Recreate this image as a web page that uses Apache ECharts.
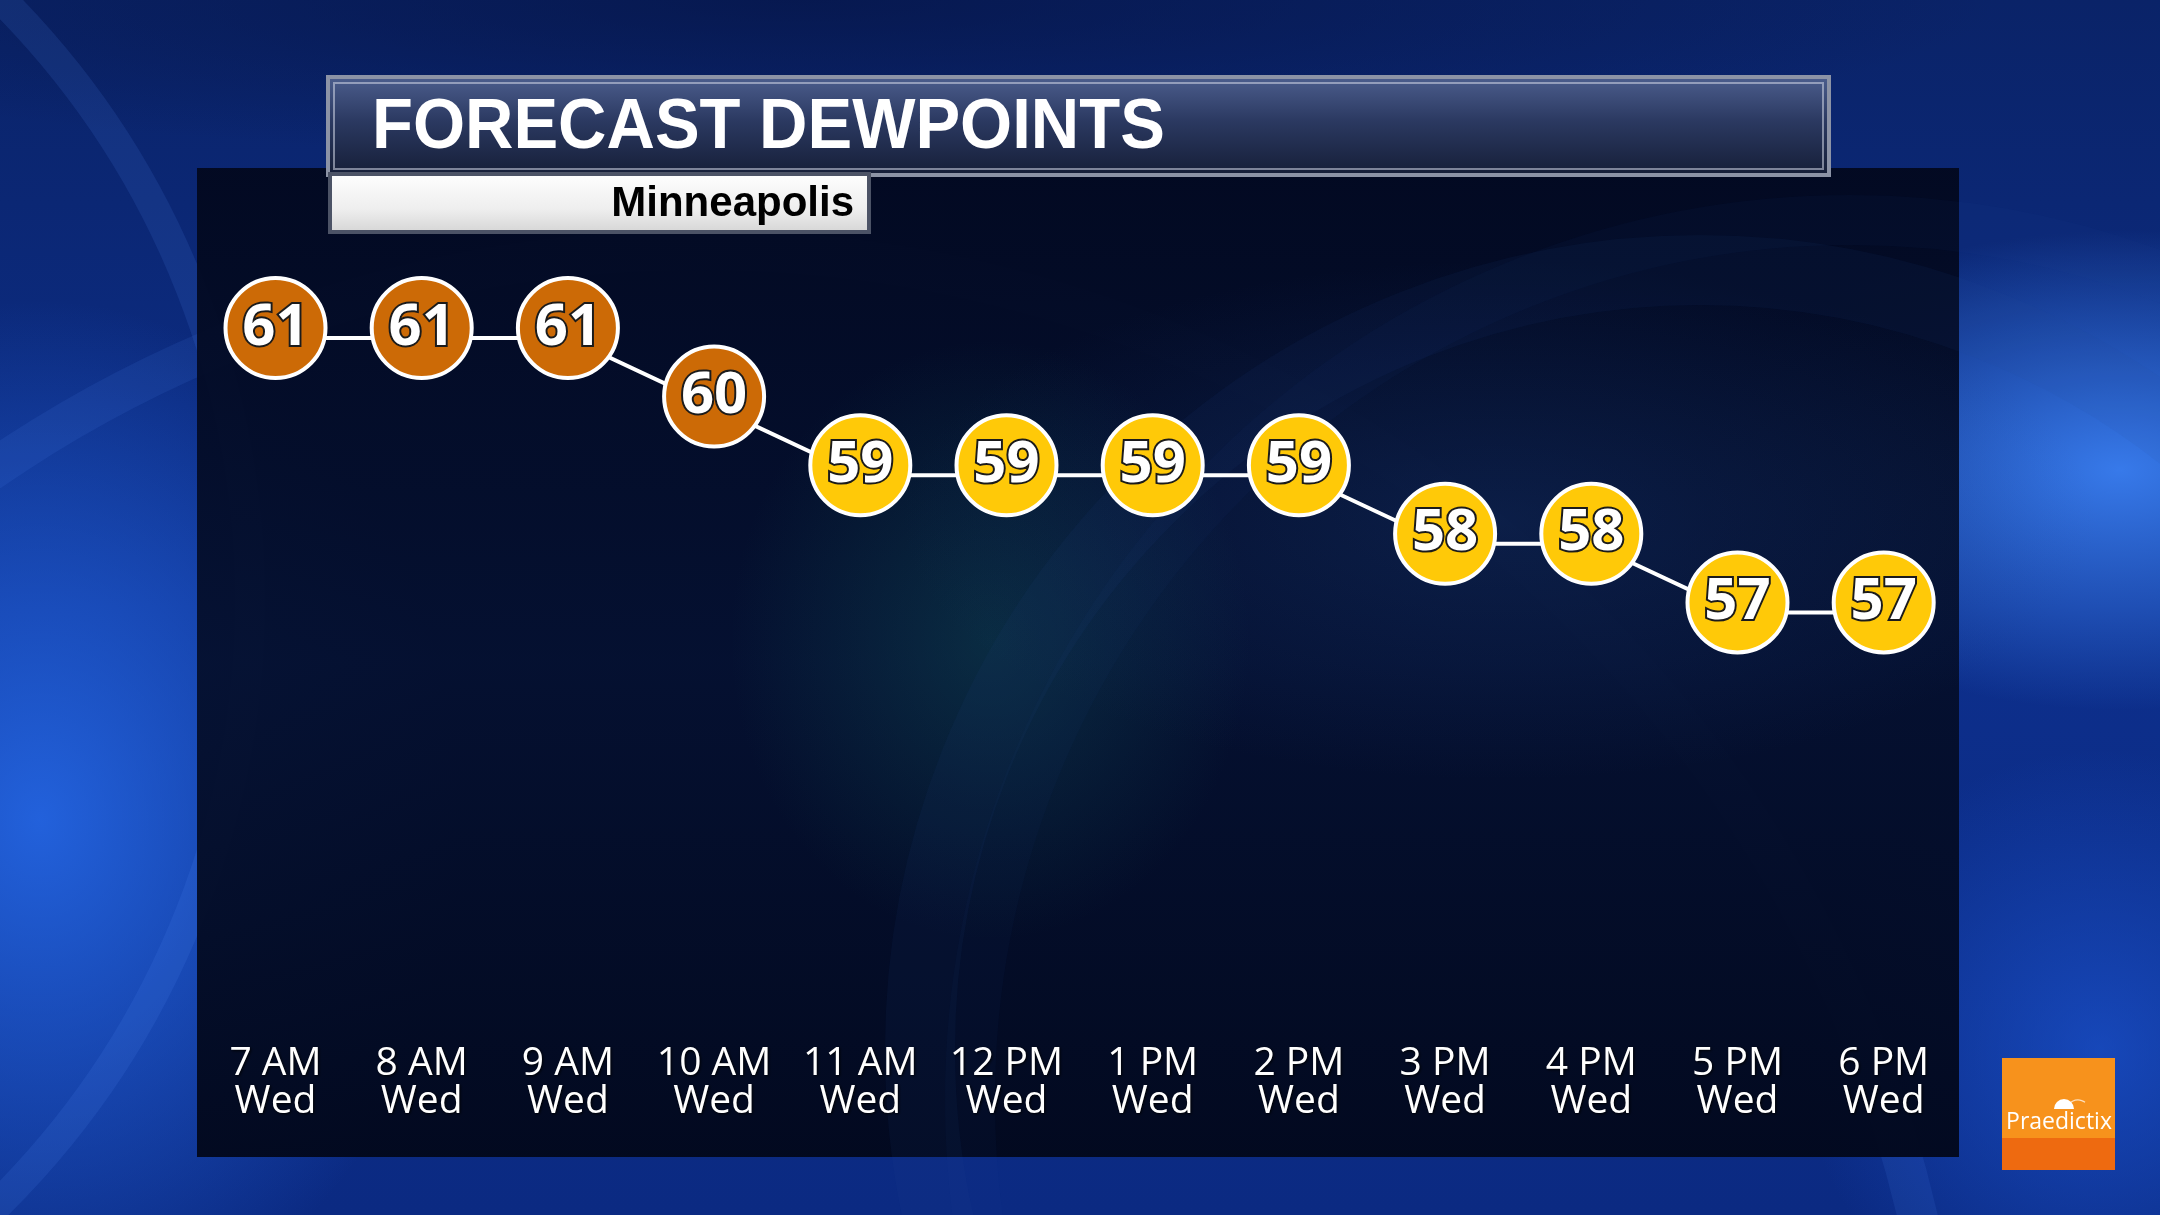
<!DOCTYPE html>
<html>
<head>
<meta charset="utf-8">
<script src="https://cdn.jsdelivr.net/npm/echarts@6/dist/echarts.min.js"></script>
<style>html,body{margin:0;padding:0;background:#0c2a80;}#c{width:2160px;height:1215px;}</style>
</head>
<body>
<div id="c"></div>
<script>
const hours = ['7 AM','8 AM','9 AM','10 AM','11 AM','12 PM','1 PM','2 PM','3 PM','4 PM','5 PM','6 PM'];
const days = ['Wed','Wed','Wed','Wed','Wed','Wed','Wed','Wed','Wed','Wed','Wed','Wed'];
const dewpoints = [61,61,61,60,59,59,59,59,58,58,57,57];
const titleText = 'FORECAST DEWPOINTS';
const subtitleText = 'Minneapolis';

const categories = hours.map((h, i) => h + '\n' + days[i]);
const ORANGE = '#CC6A06';
const YELLOW = '#FFC908';

const chart = echarts.init(document.getElementById('c'), null, {renderer: 'canvas'});

function radial(c1, c2) {
  return {type: 'radial', x: 0.5, y: 0.5, r: 0.5, colorStops: [{offset: 0, color: c1}, {offset: 1, color: c2}]};
}

const graphics = [
  // background
  {type: 'rect', z: -20, shape: {x: 0, y: 0, width: 2160, height: 1215},
   style: {fill: {type: 'linear', x: 0, y: 0, x2: 0, y2: 1, colorStops: [
     {offset: 0, color: '#0a2368'}, {offset: 0.5, color: '#0d2f8c'}, {offset: 1, color: '#0b2a82'}]}}},
  {type: 'circle', z: -19, shape: {cx: 0, cy: 0, r: 1}, x: 40, y: 820, scaleX: 420, scaleY: 520,
   style: {fill: radial('rgba(40,110,240,0.8)', 'rgba(40,110,240,0)')}},
  {type: 'circle', z: -19, shape: {cx: 0, cy: 0, r: 1}, x: 2120, y: 470, scaleX: 420, scaleY: 240,
   style: {fill: radial('rgba(60,130,245,0.9)', 'rgba(60,130,245,0)')}},
  {type: 'circle', z: -19, shape: {cx: 0, cy: 0, r: 1}, x: 2100, y: 1050, scaleX: 300, scaleY: 300,
   style: {fill: radial('rgba(30,90,220,0.6)', 'rgba(30,90,220,0)')}},
  {type: 'circle', z: -19, shape: {cx: 0, cy: 0, r: 1}, x: 800, y: 0, scaleX: 1200, scaleY: 160,
   style: {fill: radial('rgba(5,20,70,0.7)', 'rgba(5,20,70,0)')}},
  {type: 'circle', z: -18, shape: {cx: 700, cy: 1500, r: 1250},
   style: {fill: 'none', stroke: 'rgba(90,150,255,0.1)', lineWidth: 40}},
  {type: 'circle', z: -18, shape: {cx: -600, cy: 600, r: 850},
   style: {fill: 'none', stroke: 'rgba(90,150,255,0.12)', lineWidth: 30}},
  // panel
  {type: 'rect', z: -10, shape: {x: 197, y: 168, width: 1762, height: 989},
   style: {fill: {type: 'linear', x: 0, y: 0, x2: 0, y2: 1, colorStops: [
     {offset: 0, color: 'rgba(2,8,30,0.95)'}, {offset: 0.5, color: 'rgba(4,14,42,0.93)'}, {offset: 1, color: 'rgba(2,8,28,0.96)'}]}}},
  {type: 'circle', z: -9, shape: {cx: 0, cy: 0, r: 1}, x: 990, y: 640, scaleX: 260, scaleY: 300,
   style: {fill: radial('rgba(20,95,100,0.35)', 'rgba(20,95,100,0)')}},
  {type: 'circle', z: -9, shape: {cx: 0, cy: 0, r: 1}, x: 1500, y: 520, scaleX: 600, scaleY: 260,
   style: {fill: radial('rgba(30,70,140,0.28)', 'rgba(30,70,140,0)')}},
  {type: 'circle', z: -9, shape: {cx: 1700, cy: 1050, r: 780},
   style: {fill: 'none', stroke: 'rgba(40,80,150,0.08)', lineWidth: 70}},
  {type: 'circle', z: -9, shape: {cx: 1850, cy: 1100, r: 880},
   style: {fill: 'none', stroke: 'rgba(40,80,150,0.05)', lineWidth: 50}},
  // title box
  {type: 'rect', z: 5, shape: {x: 328, y: 77, width: 1501, height: 98},
   style: {fill: {type: 'linear', x: 0, y: 0, x2: 0, y2: 1, colorStops: [
     {offset: 0, color: '#4d5f8f'}, {offset: 0.45, color: '#2b3961'}, {offset: 1, color: '#151d36'}]},
     stroke: '#8c93a6', lineWidth: 4}},
  {type: 'rect', z: 5, shape: {x: 334, y: 83, width: 1489, height: 86},
   style: {fill: 'none', stroke: 'rgba(210,215,230,0.55)', lineWidth: 2}},
  {type: 'text', z: 6, x: 372, y: 128, scaleY: 1.06,
   style: {text: titleText, fill: '#ffffff', fontFamily: '"Liberation Sans", Arial, sans-serif', fontWeight: 'bold', fontSize: 67,
     textAlign: 'left', textVerticalAlign: 'middle', shadowColor: 'rgba(0,0,0,0.85)', shadowBlur: 4, shadowOffsetX: 3, shadowOffsetY: 3}},
  // subtitle box
  {type: 'rect', z: 5, shape: {x: 330, y: 174, width: 539, height: 58},
   style: {fill: {type: 'linear', x: 0, y: 0, x2: 0, y2: 1, colorStops: [
     {offset: 0, color: '#ffffff'}, {offset: 0.6, color: '#eeeeee'}, {offset: 1, color: '#d4d4d4'}]},
     stroke: '#4c5366', lineWidth: 4}},
  {type: 'text', z: 6, x: 854, y: 204,
   style: {text: subtitleText, fill: '#000000', fontFamily: '"Liberation Sans", Arial, sans-serif', fontWeight: 'bold', fontSize: 42,
     textAlign: 'right', textVerticalAlign: 'middle'}},
  // logo
  {type: 'rect', z: 5, shape: {x: 2002, y: 1058, width: 113, height: 80}, style: {fill: '#F7921C'}},
  {type: 'rect', z: 5, shape: {x: 2002, y: 1138, width: 113, height: 32}, style: {fill: '#EE6A10'}},
  {type: 'sector', z: 6, shape: {cx: 2064, cy: 1109, r0: 0, r: 10, startAngle: Math.PI, endAngle: Math.PI * 2}, style: {fill: '#ffffff'}},
  {type: 'arc', z: 6, shape: {cx: 2078, cy: 1112, r: 12, startAngle: -Math.PI * 0.9, endAngle: -Math.PI * 0.3}, style: {stroke: 'rgba(255,255,255,0.7)', lineWidth: 1.2, fill: 'none'}},
  {type: 'text', z: 6, x: 2059, y: 1122,
   style: {text: 'Praedictix', fill: '#ffffff', fontFamily: '"Open Sans", sans-serif', fontSize: 23,
     textAlign: 'center', textVerticalAlign: 'middle'}}
];

const option = {
  backgroundColor: 'transparent',
  animation: false,
  graphic: {elements: graphics},
  grid: {left: 202.4, right: 203.2, top: 269.4, bottom: 191},
  xAxis: {
    type: 'category',
    data: categories,
    boundaryGap: true,
    axisLine: {show: false},
    axisTick: {show: false},
    splitLine: {show: false},
    axisLabel: {
      color: '#ffffff', fontFamily: '"Open Sans", sans-serif', fontSize: 39, lineHeight: 38, margin: 21,
      interval: 0, align: 'center',
      textShadowColor: 'rgba(0,0,0,0.9)', textShadowBlur: 3, textShadowOffsetX: 1, textShadowOffsetY: 1
    }
  },
  yAxis: {type: 'value', min: 51, max: 62, show: false, splitLine: {show: false}},
  series: [{
    type: 'line',
    data: dewpoints,
    z: 3,
    symbol: 'circle',
    symbolSize: 100,
    symbolOffset: [0, -10],
    lineStyle: {color: '#ffffff', width: 4},
    itemStyle: {
      color: p => (p.value >= 60 ? ORANGE : YELLOW),
      borderColor: '#ffffff', borderWidth: 4
    },
    label: {
      show: true, position: 'inside',
      color: '#ffffff', fontFamily: '"Open Sans", sans-serif', fontWeight: 'bold', fontSize: 58,
      textBorderColor: '#1b1b1b', textBorderWidth: 4
    },
    emphasis: {disabled: true}
  }]
};
chart.setOption(option);
</script>
</body>
</html>
